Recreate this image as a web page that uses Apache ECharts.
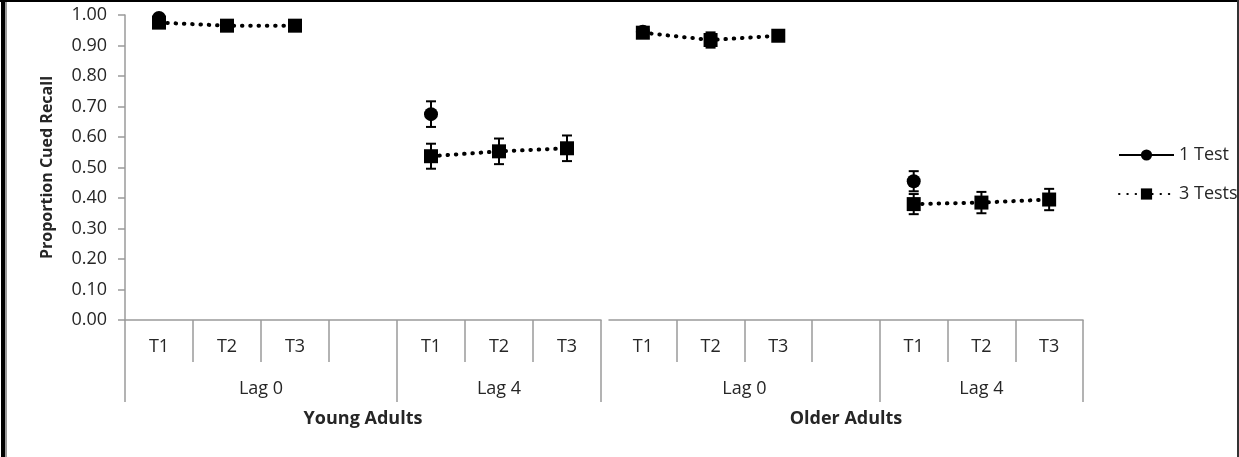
<!DOCTYPE html>
<html>
<head>
<meta charset="utf-8">
<script src="https://cdn.jsdelivr.net/npm/echarts@6/dist/echarts.min.js"></script>
<style>
  html, body { margin: 0; padding: 0; background: #fff; }
  #chart { width: 1239px; height: 457px; }
</style>
</head>
<body>
<div id="chart"></div>
<script>
// Trial slots within each age group (blank slot separates the two lags)
const trialLabels = ['T1', 'T2', 'T3', '', 'T1', 'T2', 'T3'];
const lagLabels = ['Lag 0', 'Lag 4'];
const groupLabels = ['Young Adults', 'Older Adults'];
const yTicks = [0, 0.1, 0.2, 0.3, 0.4, 0.5, 0.6, 0.7, 0.8, 0.9, 1.0];

// Young adults: means and standard errors
const youngOneTest      = [0.990, null, null, null, 0.675, null, null];
const youngOneTestErr   = [0.008, null, null, null, 0.042, null, null];
const youngThreeTests   = [0.975, 0.965, 0.965, null, 0.537, 0.553, 0.563];
const youngThreeTestsErr= [0.008, 0.008, 0.008, null, 0.041, 0.042, 0.042];

// Older adults: means and standard errors
const olderOneTest      = [0.945, null, null, null, 0.455, null, null];
const olderOneTestErr   = [0.012, null, null, null, 0.033, null, null];
const olderThreeTests   = [0.942, 0.918, 0.932, null, 0.380, 0.385, 0.395];
const olderThreeTestsErr= [0.012, 0.025, 0.012, null, 0.033, 0.035, 0.035];

const FONT = '"Open Sans", "Noto Sans", sans-serif';
const TEXT = '#262626';
const AXIS = '#9a9a9a';
const FS = 18;

// Half-slot axis used for the lag row: 15 points across 7 slots
const lagSlots = [];
for (let i = 0; i < 15; i++) {
  lagSlots.push(i === 4 ? lagLabels[0] : i === 11 ? lagLabels[1] : '');
}

function errData(means, errs) {
  const out = [];
  means.forEach((m, i) => {
    if (m != null && errs[i] != null) out.push([i, m - errs[i], m + errs[i]]);
  });
  return out;
}

function renderErr(params, api) {
  const x = api.value(0);
  const lo = api.coord([x, api.value(1)]);
  const hi = api.coord([x, api.value(2)]);
  const half = 5;
  const style = { stroke: '#000', lineWidth: 2 };
  return {
    type: 'group',
    children: [
      { type: 'line', shape: { x1: lo[0], y1: lo[1], x2: hi[0], y2: hi[1] }, style },
      { type: 'line', shape: { x1: lo[0] - half, y1: lo[1], x2: lo[0] + half, y2: lo[1] }, style },
      { type: 'line', shape: { x1: hi[0] - half, y1: hi[1], x2: hi[0] + half, y2: hi[1] }, style }
    ]
  };
}

function trialAxis(gridIndex, skipFirst) {
  return {
    type: 'category', gridIndex, data: trialLabels, position: 'bottom',
    boundaryGap: true,
    axisLine: { show: true, lineStyle: { color: AXIS, width: 1.5 } },
    axisTick: {
      show: true, length: 42, lineStyle: { color: AXIS, width: 1.5 },
      interval: skipFirst ? (i) => i !== 0 : 0
    },
    axisLabel: { interval: 0, margin: 18, color: TEXT, fontSize: FS, fontFamily: FONT }
  };
}

function lagAxis(gridIndex, groupName, ticks) {
  return {
    type: 'category', gridIndex, data: lagSlots, position: 'bottom',
    boundaryGap: false,
    axisLine: { show: false },
    axisTick: {
      show: true, length: 82, lineStyle: { color: AXIS, width: 1.5 },
      interval: (i) => ticks.indexOf(i) >= 0
    },
    axisLabel: {
      interval: (i) => i === 4 || i === 11,
      margin: 60, color: TEXT, fontSize: FS, fontFamily: FONT
    },
    name: groupName, nameLocation: 'middle', nameGap: 90,
    nameTextStyle: { color: TEXT, fontSize: 18, fontWeight: 'bold', fontFamily: FONT }
  };
}

function valueAxis(gridIndex, visible) {
  return {
    type: 'value', gridIndex, min: yTicks[0], max: yTicks[yTicks.length - 1], interval: 0.1,
    splitLine: { show: false },
    axisLine: { show: visible, lineStyle: { color: AXIS, width: 1.5 } },
    axisTick: { show: visible, length: 7, lineStyle: { color: AXIS, width: 1.5 } },
    axisLabel: {
      show: visible, margin: 18, color: TEXT, fontSize: FS, fontFamily: FONT,
      formatter: (v) => v.toFixed(2)
    },
    name: visible ? 'Proportion Cued Recall' : '',
    nameLocation: 'middle', nameGap: 70,
    nameTextStyle: { color: TEXT, fontSize: 16, fontWeight: 'bold', fontFamily: FONT }
  };
}

function groupSeries(idx, one, oneErr, three, threeErr) {
  return [
    {
      type: 'custom', name: 'errors-' + idx, xAxisIndex: idx * 2, yAxisIndex: idx,
      renderItem: renderErr, data: errData(one, oneErr).concat(errData(three, threeErr)),
      z: 1, silent: true
    },
    {
      type: 'line', name: '1 Test', xAxisIndex: idx * 2, yAxisIndex: idx, data: one,
      symbol: 'circle', symbolSize: 14, connectNulls: false,
      itemStyle: { color: '#000' }, lineStyle: { color: '#000', width: 3.5, type: 'solid' },
      z: 2
    },
    {
      type: 'line', name: '3 Tests', xAxisIndex: idx * 2, yAxisIndex: idx, data: three,
      symbol: 'rect', symbolSize: 14, connectNulls: false,
      itemStyle: { color: '#000' },
      lineStyle: { color: '#000', width: 4, type: [0.5, 7.8], cap: 'round' },
      z: 3
    }
  ];
}

const chart = echarts.init(document.getElementById('chart'), null, { renderer: 'canvas' });

chart.setOption({
  backgroundColor: '#fff',
  animation: false,
  textStyle: { fontFamily: FONT },
  grid: [
    { left: 125, top: 15, width: 476, height: 305 },
    { left: 609, top: 15, width: 474, height: 305 }
  ],
  xAxis: [
    trialAxis(0, false),
    lagAxis(0, groupLabels[0], [0, 8, 14]),
    trialAxis(1, true),
    lagAxis(1, groupLabels[1], [8, 14])
  ],
  yAxis: [valueAxis(0, true), valueAxis(1, false)],
  legend: {
    data: ['1 Test', '3 Tests'],
    orient: 'vertical', left: 1113, top: 141,
    itemWidth: 55, itemHeight: 14, itemGap: 21,
    textStyle: { color: TEXT, fontSize: FS, fontFamily: FONT }
  },
  graphic: [
    { type: 'rect', left: 1, top: 0, shape: { width: 4, height: 457 }, style: { fill: '#000' }, silent: true },
    { type: 'rect', left: 5, top: 0, shape: { width: 2, height: 457 }, style: { fill: '#9a9a9a' }, silent: true },
    { type: 'rect', left: 0, top: 0, shape: { width: 1239, height: 2 }, style: { fill: '#000' }, silent: true },
    { type: 'rect', left: 1237, top: 0, shape: { width: 2, height: 457 }, style: { fill: '#333' }, silent: true, z: 100 }
  ],
  series: [
    ...groupSeries(0, youngOneTest, youngOneTestErr, youngThreeTests, youngThreeTestsErr),
    ...groupSeries(1, olderOneTest, olderOneTestErr, olderThreeTests, olderThreeTestsErr)
  ]
});
</script>
</body>
</html>
